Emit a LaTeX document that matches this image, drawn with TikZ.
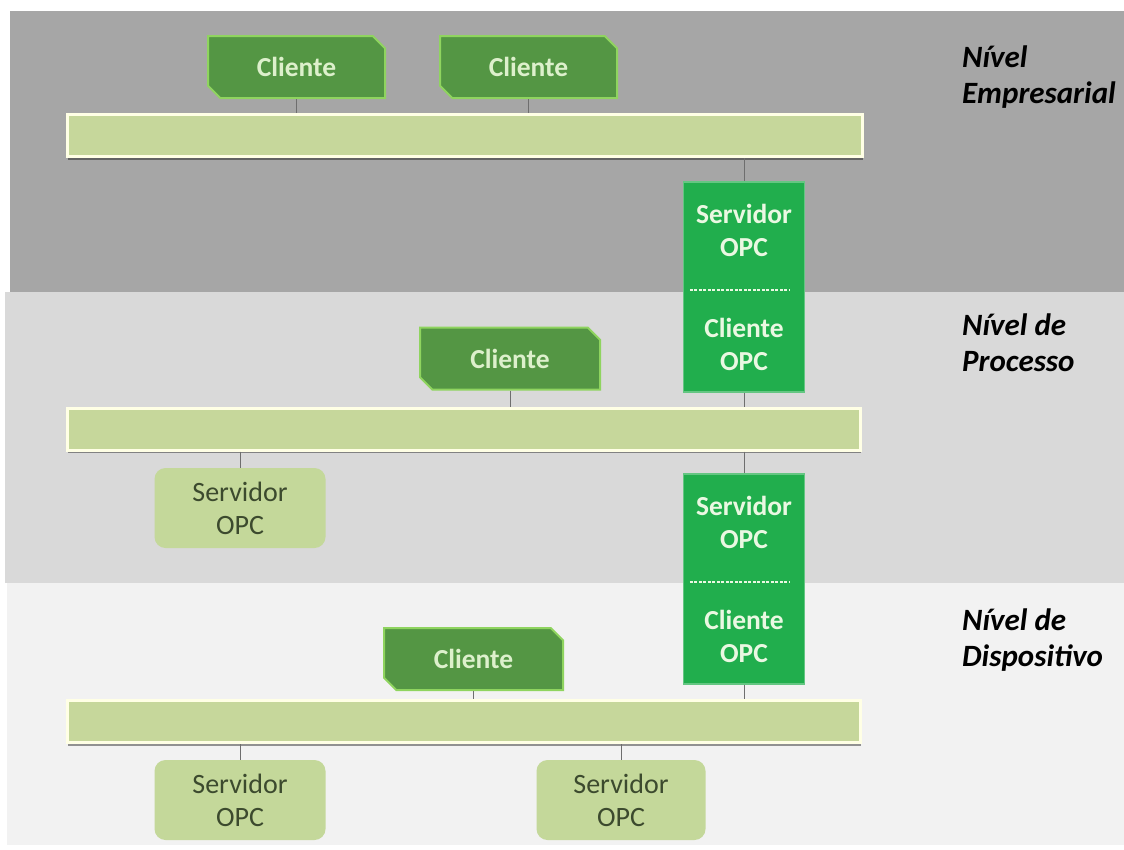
\documentclass[tikz,border=0pt]{standalone}
\usepackage{fontspec}
\setmainfont{Carlito}
\usetikzlibrary{shapes.misc,shadows}
\definecolor{bandA}{HTML}{A6A6A6}
\definecolor{bandB}{HTML}{D9D9D9}
\definecolor{bandC}{HTML}{F2F2F2}
\definecolor{cliFill}{HTML}{549644}
\definecolor{cliEdge}{HTML}{8FD45F}
\definecolor{cliText}{HTML}{DDF0CC}
\definecolor{opcFill}{HTML}{21AE4D}
\definecolor{opcText}{HTML}{EAF8E2}
\definecolor{busFill}{HTML}{C6D79B}
\definecolor{busEdge}{HTML}{FFFFE5}
\definecolor{srvFill}{HTML}{C4D89A}
\definecolor{srvText}{HTML}{3C4A2E}
\definecolor{wire}{HTML}{6E6E6E}
\tikzset{
  cliente/.style={chamfered rectangle, chamfered rectangle corners={north east,south west},
    chamfered rectangle xsep=9pt, chamfered rectangle angle=45,
    fill=cliFill, draw=cliEdge, line width=2pt, text=cliText, inner sep=0pt,
    minimum width=177pt, minimum height=62pt, font=\fontsize{27.5}{33}\selectfont\bfseries},
  bus/.style={rectangle, fill=busFill, draw=busEdge, line width=3pt, inner sep=0pt,
    minimum height=42pt, drop shadow={shadow xshift=1pt, shadow yshift=-3pt, opacity=0.4, fill=black}},
  opc/.style={rectangle, fill=opcFill, draw=opcFill!70!white, line width=1.5pt, text=opcText,
    inner sep=0pt, minimum width=121pt, minimum height=210pt, align=center,
    font=\fontsize{27.5}{33}\selectfont\bfseries},
  servidor/.style={rectangle, rounded corners=11pt, fill=srvFill, text=srvText, inner sep=0pt,
    minimum width=171pt, minimum height=80pt, align=center, font=\fontsize{28}{33}\selectfont},
  nivel/.style={anchor=north west, align=left, text=black, inner sep=0pt,
    font=\fontsize{31}{36}\selectfont\bfseries\itshape},
  link/.style={draw=wire, line width=1pt},
  sep/.style={draw=opcText, line width=1.2pt, dash pattern=on 3pt off 1.5pt}
}
\begin{document}
\begin{tikzpicture}[x=1pt,y=-1pt]
\useasboundingbox (0,0) rectangle (1124,849);
\fill[white] (0,0) rectangle (1124,849);
% bands
\fill[bandA] (10,11) rectangle (1124,292);
\fill[bandB] (5,292) rectangle (1124,583);
\fill[bandC] (7,583) rectangle (1124,845);
% buses
\node[bus, minimum width=795pt] (bus1) at (464.5,135.5) {};
\node[bus, minimum width=793pt] (bus2) at (463.5,429) {};
\node[bus, minimum width=793pt] (bus3) at (463.5,721.5) {};
% level 1
\node[cliente] (c1) at (296.5,67) {Cliente};
\node[cliente] (c2) at (528.5,67) {Cliente};
\node[opc] (o1) at (744,287) {Servidor\\OPC\\[48pt]Cliente\\OPC};
% level 2
\node[cliente, minimum width=180pt] (c3) at (510,358.5) {Cliente};
\node[servidor] (s1) at (240,508) {Servidor\\OPC};
\node[opc] (o2) at (744,579) {Servidor\\OPC\\[48pt]Cliente\\OPC};
% level 3
\node[cliente, minimum width=179pt] (c4) at (473.5,659) {Cliente};
\node[servidor] (s2) at (240,800) {Servidor\\OPC};
\node[servidor, minimum width=169pt] (s3) at (621,800) {Servidor\\OPC};
% separators inside OPC boxes
\draw[sep] ([xshift=7pt,yshift=-3pt]o1.west) -- ([xshift=-15pt,yshift=-3pt]o1.east);
\draw[sep] ([xshift=7pt,yshift=-3pt]o2.west) -- ([xshift=-15pt,yshift=-3pt]o2.east);
% connectors
\draw[link] (c1.south) -- (c1.south |- bus1.north);
\draw[link] (c2.south) -- (c2.south |- bus1.north);
\draw[link] (bus1.south -| o1.north) -- (o1.north);
\draw[link] (o1.south) -- (o1.south |- bus2.north);
\draw[link] (c3.south) -- (c3.south |- bus2.north);
\draw[link] (bus2.south -| s1.north) -- (s1.north);
\draw[link] (bus2.south -| o2.north) -- (o2.north);
\draw[link] (o2.south) -- (o2.south |- bus3.north);
\draw[link] (c4.south) -- (c4.south |- bus3.north);
\draw[link] (bus3.south -| s2.north) -- (s2.north);
\draw[link] (bus3.south -| s3.north) -- (s3.north);
% level labels
\node[nivel] (n1) at (962,46) {Nível\\Empresarial};
\node[nivel] (n2) at (962,314) {Nível de\\Processo};
\node[nivel] (n3) at (962,609) {Nível de\\Dispositivo};
\end{tikzpicture}
\end{document}
